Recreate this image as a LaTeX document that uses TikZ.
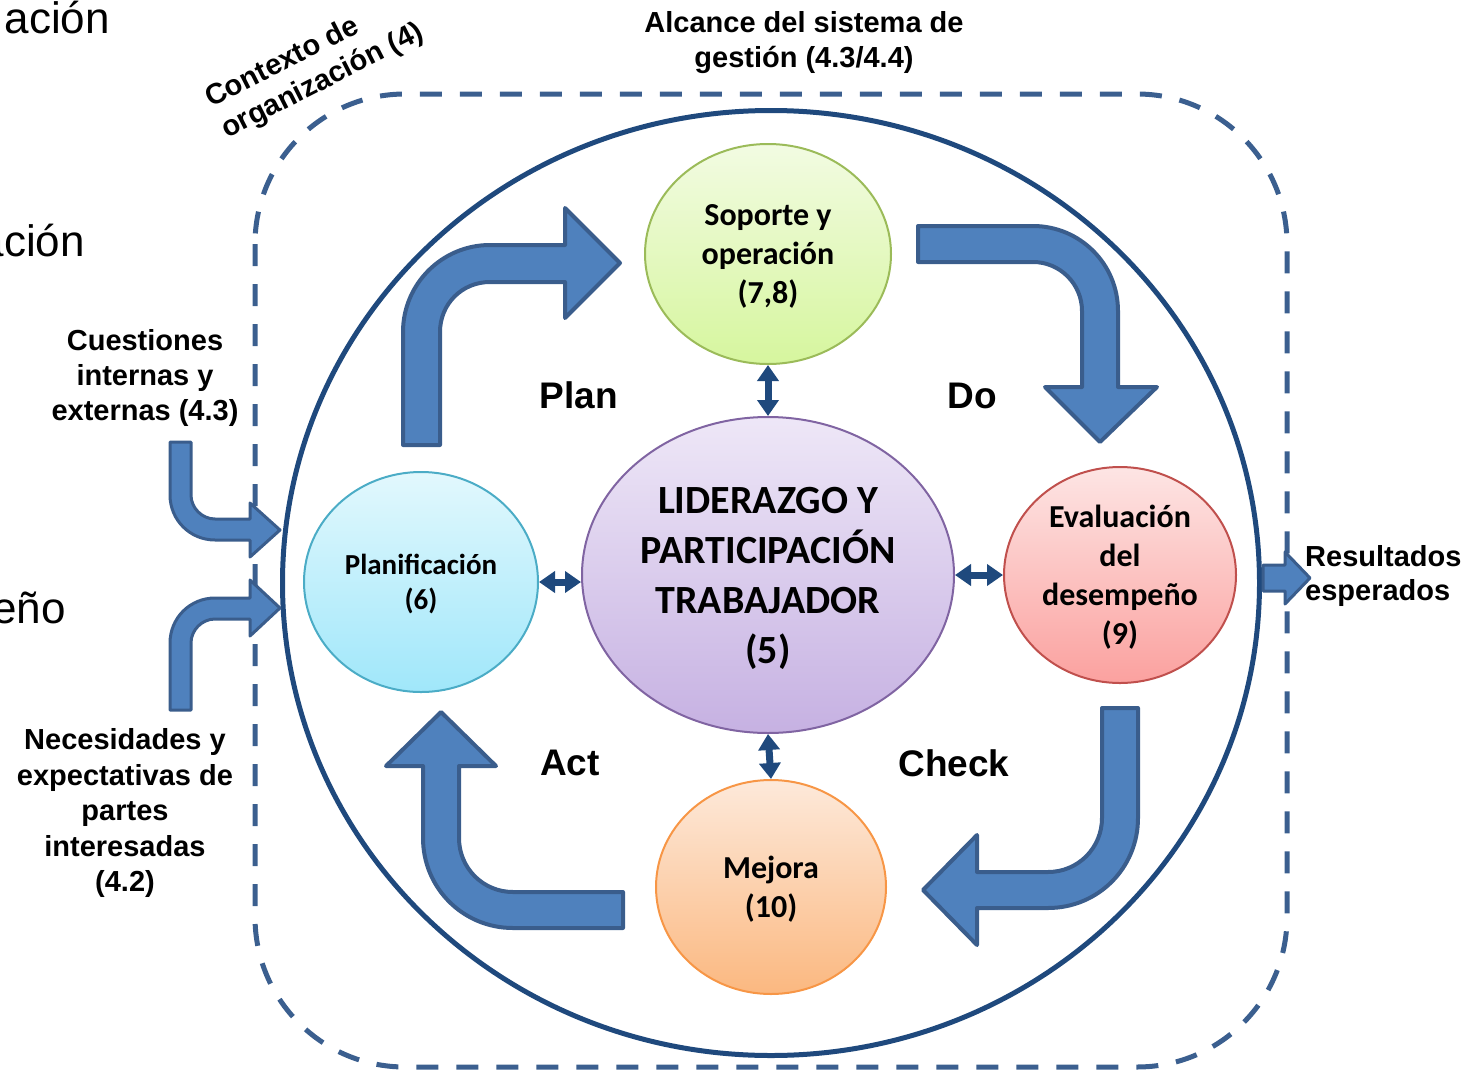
\documentclass[tikz,border=0pt]{standalone}
\usepackage{fontspec}
\setmainfont{Liberation Sans}
\newfontfamily\carl{Carlito}
\usetikzlibrary{arrows.meta,shapes.geometric}
\definecolor{navy}{HTML}{1F497D}
\definecolor{dashc}{HTML}{3B5F8F}
\definecolor{bfill}{HTML}{4F81BD}
\definecolor{bdraw}{HTML}{3A5D8C}
\definecolor{gtop}{HTML}{F2FBE2}\definecolor{gbot}{HTML}{D6F69E}\definecolor{gline}{HTML}{9BBB59}
\definecolor{ctop}{HTML}{E2F8FD}\definecolor{cbot}{HTML}{A0E7FA}\definecolor{cline}{HTML}{4BACC6}
\definecolor{ptop}{HTML}{EEE7F7}\definecolor{pbot}{HTML}{C6B1E2}\definecolor{pline}{HTML}{8064A2}
\definecolor{rtop}{HTML}{FDE5E4}\definecolor{rbot}{HTML}{FBA19F}\definecolor{rline}{HTML}{C0504D}
\definecolor{otop}{HTML}{FDE9DA}\definecolor{obot}{HTML}{FBB880}\definecolor{oline}{HTML}{F79646}
\tikzset{
  ell/.style={ellipse, inner sep=0pt, line width=2pt, align=center, text depth=0pt},
  blockarrow/.style={fill=bfill, draw=bdraw, line width=4pt, line join=round},
  smallarrow/.style={fill=bfill, draw=bdraw, line width=3pt, line join=round},
  dbl/.style={draw=navy, line width=7pt, {Triangle[width=21pt,length=16pt]}-{Triangle[width=21pt,length=16pt]}},
  lbl/.style={align=center, inner sep=0pt},
  pdca/.style={inner sep=0pt, font=\bfseries\fontsize{37}{44}\selectfont},
  bg/.style={font=\fontsize{44}{50}\selectfont, inner sep=0pt, anchor=base east}
}
\begin{document}
\begin{tikzpicture}[x=1pt,y=-1pt]
\useasboundingbox (0,0) rectangle (1483,1071);
% background cut-off texts
\node[bg] (bga) at (110,33) {ación};
\node[bg] (bgb) at (85,256) {ación};
\node[bg] (bgc) at (66,623) {Desempeño};
% dashed scope
\draw[dashc, line width=5pt, dash pattern=on 22pt off 18pt, rounded corners=150pt] (255,94) rectangle (1287,1067);
% big circle
\node[ellipse, draw=navy, line width=5pt, minimum width=977pt, minimum height=945pt, inner sep=0pt] (big) at (771,583) {};
% ellipses
\node[ell, draw=gline, top color=gtop, bottom color=gbot, minimum width=246pt, minimum height=220pt, font=\carl\bfseries\fontsize{32}{39}\selectfont] (sop) at (768,254) {Soporte y\\operación\\(7,8)};
\node[ell, draw=cline, top color=ctop, bottom color=cbot, minimum width=234pt, minimum height=220pt, font=\carl\bfseries\fontsize{29}{35}\selectfont] (plan) at (421,582) {Planificación\\(6)};
\node[ell, draw=pline, top color=ptop, bottom color=pbot, minimum width=372pt, minimum height=316pt, font=\carl\bfseries\fontsize{40}{50}\selectfont] (lid) at (768,575) {LIDERAZGO Y\\PARTICIPACIÓN\\TRABAJADOR\\(5)};
\node[ell, draw=rline, top color=rtop, bottom color=rbot, minimum width=232pt, minimum height=216pt, font=\carl\bfseries\fontsize{32}{39}\selectfont] (eva) at (1120,575) {Evaluación\\del\\desempeño\\(9)};
\node[ell, draw=oline, top color=otop, bottom color=obot, minimum width=230pt, minimum height=214pt, font=\carl\bfseries\fontsize{32}{39}\selectfont] (mej) at (771,887) {Mejora\\(10)};
% double arrows
\draw[dbl] (sop.south) -- (lid.north);
\draw[dbl] (lid.south) -- (mej.north);
\draw[dbl] (plan.east) -- (plan.east -| lid.west);
\draw[dbl] (lid.east) -- (eva.west);
% PDCA block arrows
\draw[blockarrow] (403,445) -- (403,332) .. controls (403,284) and (442,245) .. (490,245) -- (565,245) -- (565,208) -- (620,263) -- (565,318) -- (565,282) -- (490,282) .. controls (462,282) and (440,304) .. (440,332) -- (440,445) -- cycle;
\draw[blockarrow] (918,226) -- (1033,226) .. controls (1080,226) and (1118,264) .. (1118,311) -- (1118,387) -- (1157,387) -- (1100,442) -- (1045,387) -- (1082,387) -- (1082,311) .. controls (1082,284) and (1060,262) .. (1033,262) -- (918,262) -- cycle;
\draw[blockarrow] (1102,708) -- (1138,708) -- (1138,818) .. controls (1138,868) and (1098,908) .. (1048,908) -- (977,908) -- (977,945) -- (923,890) -- (977,835) -- (977,872) -- (1048,872) .. controls (1078,872) and (1102,848) .. (1102,818) -- cycle;
\draw[blockarrow] (623,892) -- (623,928) -- (513,928) .. controls (463,928) and (423,888) .. (423,838) -- (423,766) -- (386,766) -- (441,712) -- (496,766) -- (459,766) -- (459,838) .. controls (459,868) and (483,892) .. (513,892) -- cycle;
% input arrows
\draw[smallarrow] (170,442) -- (191,442) -- (191,495) .. controls (191,508) and (202,519) .. (215,519) -- (250,519) -- (250,503) -- (280,530) -- (250,557) -- (250,540) -- (215,540) .. controls (190,540) and (170,520) .. (170,495) -- cycle;
\draw[smallarrow] (170,710) -- (170,643) .. controls (170,618) and (190,598) .. (215,598) -- (250,598) -- (250,580) -- (280,608) -- (250,636) -- (250,619) -- (215,619) .. controls (202,619) and (191,630) .. (191,643) -- (191,710) -- cycle;
% output arrow
\draw[smallarrow] (1263,565) -- (1285,565) -- (1285,552) -- (1310,578) -- (1285,604) -- (1285,591) -- (1263,591) -- cycle;
% labels
\node[pdca] (lplan) at (579,395) {Plan};
\node[pdca] (ldo) at (972,396) {Do};
\node[pdca] (lact) at (570,763) {Act};
\node[pdca] (lcheck) at (954,763) {Check};
\node[lbl, font=\bfseries\fontsize{29}{35}\selectfont] (alc) at (804,43) {Alcance del sistema de\\gestión (4.3/4.4)};
\node[lbl, font=\bfseries\fontsize{29}{35}\selectfont] (cue) at (145,378) {Cuestiones\\internas y\\externas (4.3)};
\node[lbl, font=\bfseries\fontsize{29}{35.5}\selectfont] (nec) at (125,813) {Necesidades y\\expectativas de\\partes\\interesadas\\(4.2)};
\node[lbl, font=\bfseries\fontsize{29}{34}\selectfont, align=left, anchor=west] (res) at (1305,576) {Resultados\\esperados};
\node[font=\bfseries\fontsize{29}{34}\selectfont, inner sep=0pt, rotate=27, anchor=base west] (ctx1) at (211,108) {Contexto de};
\node[font=\bfseries\fontsize{29}{34}\selectfont, inner sep=0pt, rotate=27, anchor=base west] (ctx2) at (227,139) {organización (4)};
\end{tikzpicture}
\end{document}
